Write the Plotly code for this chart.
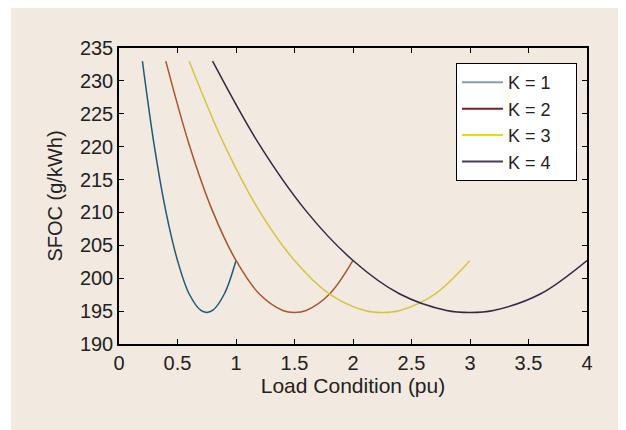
import plotly.graph_objects as go

# Data
k1_x = [0.2, 0.3, 0.4, 0.5, 0.6, 0.7, 0.75, 0.8, 0.9, 1.0]
k1_y = [233.0, 220.3, 210.2, 202.7, 197.6, 195.1, 194.8, 195.1, 197.6, 202.7]
k2_x = [0.4, 0.6, 0.8, 1.0, 1.2, 1.4, 1.5, 1.6, 1.8, 2.0]
k2_y = [233.0, 220.3, 210.2, 202.7, 197.6, 195.1, 194.8, 195.1, 197.6, 202.7]
k3_x = [0.6, 0.9, 1.2, 1.5, 1.8, 2.1, 2.25, 2.4, 2.7, 3.0]
k3_y = [233.0, 220.3, 210.2, 202.7, 197.6, 195.1, 194.8, 195.1, 197.6, 202.7]
k4_x = [0.8, 1.2, 1.6, 2.0, 2.4, 2.8, 3.0, 3.2, 3.6, 4.0]
k4_y = [233.0, 220.3, 210.2, 202.7, 197.6, 195.1, 194.8, 195.1, 197.6, 202.7]
series_names = ["K = 1", "K = 2", "K = 3", "K = 4"]
curve_colors = ["#1f5a78", "#a8552e", "#d6c440", "#2e2a45"]
legend_colors = ["#8a9bb2", "#7a1f1f", "#f0d800", "#4a3d58"]
y_ticks = [190, 195, 200, 205, 210, 215, 220, 225, 230, 235]
x_ticks = [0, 0.5, 1, 1.5, 2, 2.5, 3, 3.5, 4]
x_tick_labels = ["0", "0.5", "1", "1.5", "2", "2.5", "3", "3.5", "4"]

fig = go.Figure()
for xs, ys, c in zip([k1_x, k2_x, k3_x, k4_x], [k1_y, k2_y, k3_y, k4_y], curve_colors):
    fig.add_trace(go.Scatter(x=xs, y=ys, mode="lines", line=dict(color=c, width=1.5, shape="spline", smoothing=1.0),
                             showlegend=False, hoverinfo="skip"))
PAD = "\u00a0" * 4
for name, c in zip(series_names, legend_colors):
    fig.add_trace(go.Scatter(x=[None], y=[None], mode="lines", name=name + PAD, line=dict(color=c, width=2)))

fig.add_shape(type="rect", xref="paper", yref="paper", x0=-0.2308, x1=1.2, y0=-0.5, y1=1.3,
              fillcolor="#f2eae0", line=dict(width=0), layer="below")

FONT = "Liberation Sans, Arial, sans-serif"
axis_common = dict(showline=True, linecolor="black", linewidth=1.5, mirror="ticks", ticks="inside",
                   ticklen=5, tickcolor="black", showgrid=False, zeroline=False,
                   tickfont=dict(family=FONT, size=20, color="#222222"))

fig.update_layout(
    width=618, height=422,
    margin=dict(l=111, r=39, t=40, b=86),
    paper_bgcolor="white", plot_bgcolor="#fcfcfd",
    font=dict(family=FONT, size=20, color="#222222"),
    xaxis=dict(range=[0, 4], tickvals=x_ticks, ticktext=x_tick_labels,
               title=dict(text="Load Condition (pu)", font=dict(size=21), standoff=6), **axis_common),
    yaxis=dict(range=[190, 235], tickvals=y_ticks,
               title=dict(text="SFOC (g/kWh)", font=dict(size=20), standoff=12), **axis_common),
    legend=dict(x=0.72, y=0.949, xanchor="left", yanchor="top", bgcolor="white",
                bordercolor="black", borderwidth=1, font=dict(size=18), tracegroupgap=0,
                itemwidth=41),
    showlegend=True,
)

fig.write_html("out.html")
